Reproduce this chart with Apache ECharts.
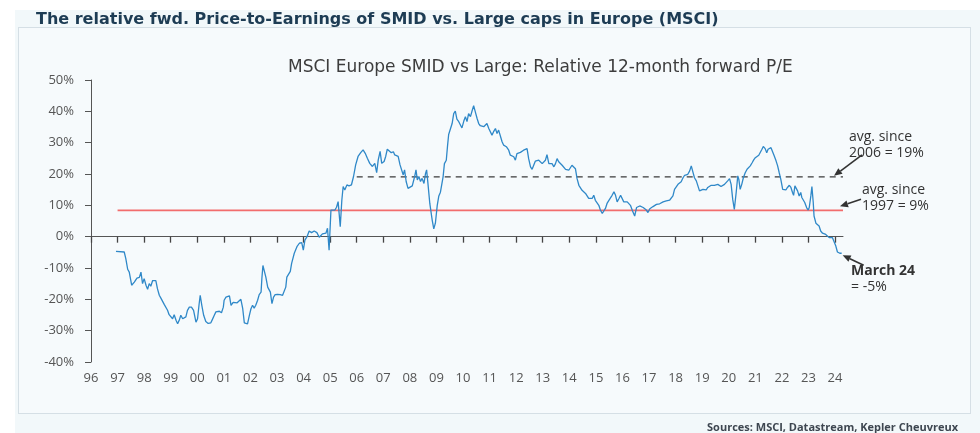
<!DOCTYPE html>
<html>
<head>
<meta charset="utf-8">
<script src="https://cdn.jsdelivr.net/npm/echarts@6/dist/echarts.min.js"></script>
<style>
  html, body { margin: 0; padding: 0; background: #fff; }
  #wrap { position: relative; width: 980px; height: 433px; overflow: hidden; }
  #bg { position: absolute; left: 15px; top: 10px; width: 965px; height: 423px; background: #f2f8fa; }
  #panel { position: absolute; left: 18px; top: 27px; width: 951px; height: 385px; background: #f6fafc; border: 1.5px solid #d5dfe5; }
  #chart { position: absolute; left: 0; top: 0; width: 980px; height: 433px; }
</style>
</head>
<body>
<div id="wrap">
  <div id="bg"></div>
  <div id="panel"></div>
  <div id="chart"></div>
</div>
<script>
  const yrs = [
    1996.94, 1997.25, 1997.31, 1997.38, 1997.44, 1997.53, 1997.63, 1997.73, 1997.82, 1997.88, 1997.94,
    1998.0, 1998.07, 1998.13, 1998.19, 1998.25, 1998.32, 1998.38, 1998.44, 1998.5, 1998.57, 1998.63, 1998.69, 1998.76, 1998.82, 1998.88, 1998.94,
    1999.0, 1999.07, 1999.13, 1999.2, 1999.26, 1999.32, 1999.38, 1999.45, 1999.51, 1999.57, 1999.63, 1999.7, 1999.78, 1999.86, 1999.95,
    2000.01, 2000.07, 2000.11, 2000.17, 2000.24, 2000.32, 2000.41, 2000.51, 2000.57, 2000.64, 2000.7, 2000.76, 2000.83, 2000.91, 2000.98,
    2001.01, 2001.08, 2001.14, 2001.21, 2001.27, 2001.35, 2001.42, 2001.5, 2001.57, 2001.64, 2001.71, 2001.77, 2001.83, 2001.89, 2001.96,
    2002.02, 2002.08, 2002.14, 2002.2, 2002.27, 2002.33, 2002.4, 2002.43, 2002.47, 2002.52, 2002.58, 2002.65, 2002.7, 2002.75, 2002.81, 2002.87, 2002.93,
    2003.02, 2003.12, 2003.21, 2003.27, 2003.33, 2003.37, 2003.44, 2003.5, 2003.55, 2003.65, 2003.75, 2003.84, 2003.93, 2003.99,
    2004.05, 2004.13, 2004.21, 2004.3, 2004.4, 2004.5, 2004.59, 2004.65, 2004.71, 2004.78, 2004.84, 2004.9, 2004.96,
    2005.03, 2005.09, 2005.18, 2005.24, 2005.3, 2005.38, 2005.44, 2005.49, 2005.55, 2005.63, 2005.71, 2005.8, 2005.88, 2005.96,
    2006.05, 2006.15, 2006.24, 2006.32, 2006.4, 2006.49, 2006.59, 2006.68, 2006.75, 2006.81, 2006.88, 2006.94,
    2007.03, 2007.09, 2007.15, 2007.21, 2007.3, 2007.38, 2007.43, 2007.5, 2007.56, 2007.63, 2007.69, 2007.75, 2007.8, 2007.86, 2007.93,
    2008.0, 2008.09, 2008.18, 2008.23, 2008.28, 2008.34, 2008.4, 2008.46, 2008.53, 2008.59, 2008.63, 2008.68, 2008.75, 2008.84, 2008.9, 2008.96,
    2009.03, 2009.09, 2009.15, 2009.21, 2009.25, 2009.3, 2009.37, 2009.42, 2009.46, 2009.52, 2009.59, 2009.65, 2009.71, 2009.77, 2009.84, 2009.9, 2009.96,
    2010.03, 2010.09, 2010.15, 2010.21, 2010.28, 2010.34, 2010.4, 2010.46, 2010.53, 2010.59, 2010.65, 2010.72, 2010.78, 2010.84, 2010.9, 2010.97,
    2011.03, 2011.09, 2011.15, 2011.22, 2011.28, 2011.34, 2011.41, 2011.47, 2011.53, 2011.63, 2011.72, 2011.78, 2011.85, 2011.91, 2011.97,
    2012.03, 2012.1, 2012.16, 2012.22, 2012.28, 2012.35, 2012.41, 2012.47, 2012.54, 2012.6, 2012.66, 2012.72, 2012.79, 2012.85, 2012.91, 2012.98,
    2013.04, 2013.1, 2013.16, 2013.23, 2013.29, 2013.35, 2013.42, 2013.48, 2013.54, 2013.6, 2013.67, 2013.73, 2013.79, 2013.86, 2013.92, 2013.98,
    2014.04, 2014.1, 2014.17, 2014.23, 2014.29, 2014.36, 2014.42, 2014.48, 2014.55, 2014.61, 2014.67, 2014.73, 2014.8, 2014.86, 2014.92, 2014.98,
    2015.05, 2015.11, 2015.17, 2015.24, 2015.3, 2015.36, 2015.42, 2015.49, 2015.55, 2015.61, 2015.68, 2015.74, 2015.8, 2015.87, 2015.93, 2015.99,
    2016.05, 2016.12, 2016.18, 2016.24, 2016.3, 2016.38, 2016.46, 2016.53, 2016.59, 2016.65, 2016.71, 2016.78, 2016.84, 2016.9, 2016.96,
    2017.03, 2017.09, 2017.15, 2017.21, 2017.28, 2017.34, 2017.4, 2017.46, 2017.53, 2017.59, 2017.65, 2017.71, 2017.78, 2017.84, 2017.9, 2017.96,
    2018.03, 2018.09, 2018.15, 2018.21, 2018.28, 2018.34, 2018.4, 2018.46, 2018.53, 2018.59, 2018.65, 2018.71, 2018.78, 2018.84, 2018.9, 2018.96,
    2019.03, 2019.09, 2019.15, 2019.21, 2019.28, 2019.34, 2019.4, 2019.46, 2019.53, 2019.59, 2019.65, 2019.71, 2019.78, 2019.84, 2019.9, 2019.96,
    2020.03, 2020.09, 2020.15, 2020.21, 2020.28, 2020.34, 2020.38, 2020.43, 2020.49, 2020.55, 2020.62, 2020.69, 2020.75, 2020.81, 2020.88, 2020.94,
    2021.0, 2021.06, 2021.13, 2021.19, 2021.25, 2021.3, 2021.37, 2021.43, 2021.48, 2021.53, 2021.59, 2021.65, 2021.71, 2021.78, 2021.84, 2021.9, 2021.96,
    2022.03, 2022.09, 2022.15, 2022.21, 2022.28, 2022.34, 2022.4, 2022.44, 2022.49, 2022.53, 2022.59, 2022.65, 2022.71, 2022.75, 2022.8, 2022.86, 2022.93, 2022.99,
    2023.03, 2023.09, 2023.13, 2023.18, 2023.21, 2023.28, 2023.34, 2023.4, 2023.46, 2023.53, 2023.59, 2023.65, 2023.71, 2023.78, 2023.84, 2023.9, 2023.96,
    2024.03, 2024.09, 2024.18, 2024.25
  ];
  const relPE = [
    -4.7, -4.9, -7.0, -10.4, -11.3, -15.5, -14.5, -13.2, -13.0, -11.3, -15.0,
    -13.4, -15.5, -16.8, -15.0, -15.8, -14.0, -13.4, -14.0, -16.6, -18.7, -19.6, -19.8, -21.7, -21.9, -23.5, -24.9,
    -25.3, -26.2, -24.9, -26.7, -27.8, -26.7, -25.1, -26.2, -26.7, -25.6, -23.5, -22.5, -22.5, -23.5, -27.3,
    -26.2, -21.4, -18.7, -21.9, -25.1, -27.1, -27.7, -27.5, -26.4, -25.1, -24.0, -23.5, -23.8, -24.3, -22.5,
    -20.3, -19.3, -18.7, -18.9, -21.9, -21.0, -20.7, -21.1, -20.7, -20.0, -23.0, -27.5, -28.1, -27.8, -25.1,
    -23.0, -21.9, -22.8, -21.9, -20.3, -18.5, -17.7, -13.4, -9.2, -9.7, -12.9, -16.1, -15.5, -17.7, -21.4, -19.3, -18.5,
    -18.4, -18.5, -18.7, -18.9, -16.1, -12.9, -12.4, -11.1, -8.5, -5.3, -3.2, -2.1, -1.9, -4.3,
    -1.1, 0.0, 1.8, 1.3, 1.8, 1.3, -0.2, 0.2, 0.9, 0.5, 1.1, 2.7, -4.3,
    8.5, 9.0, 8.5, 9.4, 11.2, 3.2, 11.7, 16.0, 14.9, 16.5, 16.2, 16.5, 19.2, 22.9,
    25.6, 26.8, 27.7, 26.6, 25.0, 23.4, 22.4, 23.4, 20.4, 24.5, 27.2, 23.4,
    24.0, 25.6, 27.9, 28.2, 26.8, 27.1, 26.1, 26.6, 25.6, 22.9, 22.6, 19.7, 21.3, 17.6, 15.4,
    15.4, 16.2, 19.2, 21.3, 18.1, 19.2, 17.6, 18.6, 17.0, 20.2, 21.3, 17.0, 10.6, 5.3, 2.5, 4.3,
    10.0, 13.0, 14.2, 14.4, 19.1, 23.3, 24.4, 29.2, 32.6, 32.4, 36.1, 39.3, 40.1, 37.5, 36.7, 37.0, 34.7,
    36.9, 38.3, 36.7, 39.3, 38.3, 40.1, 41.8, 39.9, 37.7, 36.1, 35.4, 35.8, 35.1, 35.6, 36.1, 34.5,
    35.1, 32.4, 33.5, 34.5, 32.9, 34.0, 33.5, 30.3, 29.2, 28.7, 27.6, 26.0, 26.5, 25.5, 24.4,
    26.5, 26.9, 26.9, 27.3, 27.6, 27.9, 28.1, 24.9, 22.3, 21.5, 22.8, 24.1, 24.4, 24.4, 23.9, 23.3,
    23.9, 24.4, 26.2, 23.3, 22.8, 23.3, 22.3, 23.3, 24.9, 23.9, 23.3, 22.8, 22.3, 21.5, 20.9, 21.2,
    22.0, 22.8, 23.3, 21.7, 18.6, 16.4, 15.6, 14.8, 14.3, 13.8, 13.2, 12.2, 12.7, 12.2, 13.2, 11.6,
    11.3, 10.0, 8.5, 7.4, 7.7, 9.0, 10.6, 11.6, 11.1, 13.2, 14.3, 13.2, 11.1, 12.2, 13.2, 12.7,
    11.1, 11.6, 11.1, 11.3, 10.0, 8.2, 6.6, 9.3, 9.6, 9.8, 10.0, 9.3, 9.6, 8.5, 7.7,
    8.9, 8.7, 9.6, 9.3, 10.3, 10.9, 10.5, 10.9, 11.1, 11.7, 11.4, 11.9, 11.7, 11.4, 13.0, 15.1,
    15.7, 16.7, 17.3, 17.5, 18.8, 19.6, 19.4, 19.9, 21.0, 22.6, 20.7, 18.8, 17.8, 16.2, 14.6, 14.1,
    15.1, 15.3, 14.9, 15.7, 15.3, 16.4, 16.7, 16.4, 16.2, 16.7, 16.4, 16.0, 16.2, 16.7, 17.0, 17.8,
    18.5, 16.7, 11.9, 8.7, 14.1, 19.4, 18.3, 15.1, 16.7, 18.8, 20.4, 21.5, 22.0, 22.6, 23.6, 24.5,
    25.2, 24.9, 26.0, 26.3, 27.9, 28.8, 28.1, 26.8, 27.9, 28.4, 28.4, 28.4, 25.8, 24.2, 22.6, 20.4, 18.3,
    15.1, 14.6, 14.9, 15.7, 16.4, 15.7, 14.1, 13.2, 16.2, 16.7, 14.6, 13.0, 14.1, 12.5, 11.9, 10.9, 9.3, 8.5,
    9.3, 13.0, 16.0, 10.9, 6.6, 4.3, 3.9, 3.4, 1.8, 1.1, 1.3, 0.7, 0.2, -0.3, -0.9, -0.3, 0.2,
    -3.0, -4.9, -5.3, -5.3
  ];
  const tickYears = [1996, 1997, 1998, 1999, 2000, 2001, 2002, 2003, 2004, 2005, 2006, 2007, 2008, 2009,
    2010, 2011, 2012, 2013, 2014, 2015, 2016, 2017, 2018, 2019, 2020, 2021, 2022, 2023, 2024];
  const xEnd = 2024.3;
  const yMin = -40, yMax = 50;
  // moyennes historiques (traits horizontaux)
  const avg1997 = { from: 1997, value: 8.4 };
  const avg2006 = { from: 2006, value: 19.1 };

  const FONT = '"Open Sans", "Noto Sans", sans-serif';
  const WIDE = '"DejaVu Sans", "Open Sans", sans-serif';
  const GRID = { left: 91, right: 137, top: 80, bottom: 71, outerBoundsMode: 'none' };
  const chart = echarts.init(document.getElementById('chart'), null, { renderer: 'canvas' });

  const yy = (v) => String(v % 100).padStart(2, '0');
  // l'axe x est posé sur le 0 % ; les étiquettes restent en bas du graphique
  const plotH = 433 - GRID.top - GRID.bottom;
  const zeroToBottom = plotH * (0 - yMin) / (yMax - yMin);

  chart.setOption({
    backgroundColor: 'transparent',
    animation: false,
    title: [
      { text: 'The relative fwd. Price-to-Earnings of SMID vs. Large caps in Europe (MSCI)', left: 31, top: 7,
        textStyle: { fontFamily: WIDE, fontSize: 16, fontWeight: 'bold', color: '#1d3c54' } },
      { text: 'MSCI Europe SMID vs Large: Relative 12-month forward P/E', left: 283, top: 54,
        textStyle: { fontFamily: WIDE, fontSize: 17, fontWeight: 'normal', color: '#3d3d3d' } },
      { text: 'Sources: MSCI, Datastream, Kepler Cheuvreux', right: 17, top: 417,
        textStyle: { fontFamily: FONT, fontSize: 11, fontWeight: 'bold', color: '#3d4650' } }
    ],
    grid: GRID,
    xAxis: {
      type: 'value', min: 1996, max: xEnd, interval: 1, position: 'bottom',
      axisLine: { show: true, onZero: true, lineStyle: { color: '#555', width: 1 } },
      axisTick: { show: true, length: 6, lineStyle: { color: '#444', width: 1.3 } },
      splitLine: { show: false },
      axisLabel: { formatter: (v) => (Number.isInteger(v) ? yy(v) : ''), showMaxLabel: false,
        margin: zeroToBottom + 9, fontFamily: FONT, fontSize: 13, color: '#555' }
    },
    yAxis: {
      type: 'value', min: yMin, max: yMax, interval: 10,
      axisLine: { show: true, onZero: false, lineStyle: { color: '#555', width: 1 } },
      axisTick: { show: true, length: 6, lineStyle: { color: '#555' } },
      splitLine: { show: false },
      axisLabel: { formatter: '{value}%', margin: 17, fontFamily: FONT, fontSize: 13, color: '#555' }
    },
    series: [
      { name: 'avg since 1997', type: 'line', symbol: 'none', silent: true,
        data: [[avg1997.from, avg1997.value], [xEnd, avg1997.value]],
        lineStyle: { color: '#f26d6d', width: 1.6 }, z: 1 },
      { name: 'avg since 2006', type: 'line', symbol: 'none', silent: true,
        data: [[avg2006.from, avg2006.value], [xEnd, avg2006.value]],
        lineStyle: { color: '#3a3a3a', width: 1.3, type: [6, 5] }, z: 1 },
      { name: 'SMID vs Large', type: 'line', symbol: 'none',
        data: yrs.map((t, i) => [t, relPE[i]]),
        lineStyle: { color: '#2f88c8', width: 1.3 }, z: 3 }
    ]
  });

  /* ---------- annotations (flèches + textes) ---------- */
  function arrow(x1, y1, x2, y2) {
    const a = Math.atan2(y2 - y1, x2 - x1), L = 8, W = 3.5;
    const bx = x2 - L * Math.cos(a), by = y2 - L * Math.sin(a);
    const nx = -Math.sin(a) * W, ny = Math.cos(a) * W;
    return [
      { type: 'line', shape: { x1, y1, x2: bx, y2: by }, style: { stroke: '#333', lineWidth: 1.6 } },
      { type: 'polygon', shape: { points: [[x2, y2], [bx + nx, by + ny], [bx - nx, by - ny]] }, style: { fill: '#333' } }
    ];
  }
  const txt = (x, y, s, bold) => ({ type: 'text', x, y,
    style: { text: s, font: (bold ? 'bold ' : '') + '14px ' + FONT, fill: '#333', textVerticalAlign: 'middle' } });

  const p06 = chart.convertToPixel({ gridIndex: 0 }, [xEnd, avg2006.value]);
  const p97 = chart.convertToPixel({ gridIndex: 0 }, [xEnd, avg1997.value]);
  const pLast = chart.convertToPixel({ gridIndex: 0 }, [yrs[yrs.length - 1], relPE[relPE.length - 1]]);
  const pBottom = chart.convertToPixel({ gridIndex: 0 }, [1996, yMin]);

  // années sous le graphique, placées par l'échelle de l'axe x
  const yearLabels = tickYears.map((y) => ({
    type: 'text', x: chart.convertToPixel({ xAxisIndex: 0 }, y), y: pBottom[1] + 16,
    style: { text: yy(y), font: '13px ' + FONT, fill: '#555', textAlign: 'center', textVerticalAlign: 'middle' }
  }));

  chart.setOption({
    graphic: [
      ...yearLabels,
      ...arrow(p06[0] + 19, p06[1] - 22, p06[0] - 9, p06[1] - 1),
      ...arrow(p97[0] + 18, p97[1] - 11, p97[0] - 3, p97[1] - 4),
      ...arrow(pLast[0] + 22, pLast[1] + 12, pLast[0] + 1, pLast[1] + 2),
      txt(849, 137, 'avg. since'), txt(849, 153, '2006 = 19%'),
      txt(862, 190, 'avg. since'), txt(862, 206, '1997 = 9%'),
      txt(851, 271, 'March 24', true), txt(851, 287, '= -5%')
    ]
  });
</script>
</body>
</html>
